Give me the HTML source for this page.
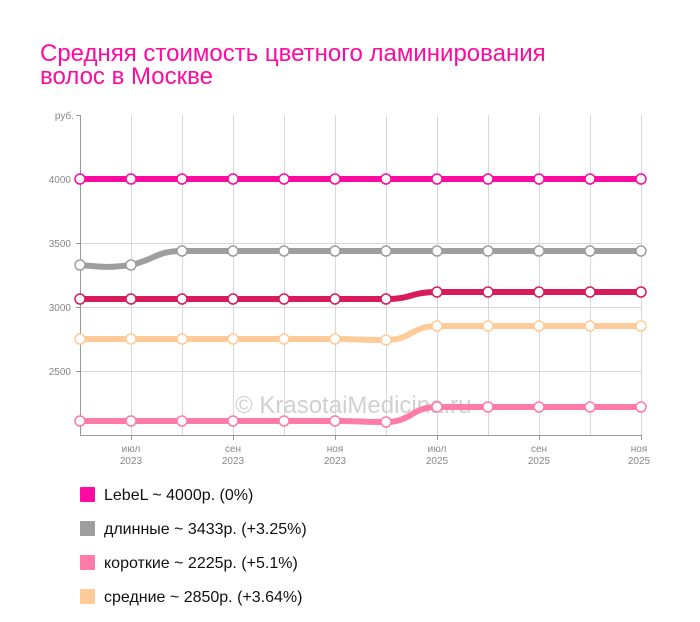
<!DOCTYPE html>
<html><head><meta charset="utf-8"><style>
body{margin:0;background:#fff;width:700px;height:617px;overflow:hidden;font-family:"Liberation Sans",sans-serif}
</style></head><body>
<svg width="700" height="617" xmlns="http://www.w3.org/2000/svg" font-family="Liberation Sans, sans-serif">
<text x="40" y="61" font-size="24" fill="#ff0aa0">Средняя стоимость цветного ламинирования</text>
<text x="40" y="84" font-size="24" fill="#ff0aa0">волос в Москве</text>
<g stroke="#d8d8d8" stroke-width="1">
<line x1="80" y1="179.5" x2="641" y2="179.5"/><line x1="80" y1="243.5" x2="641" y2="243.5"/>
<line x1="80" y1="307.5" x2="641" y2="307.5"/><line x1="80" y1="371.5" x2="641" y2="371.5"/>
<line x1="131.5" y1="115" x2="131.5" y2="435"/><line x1="182.5" y1="115" x2="182.5" y2="435"/>
<line x1="233.5" y1="115" x2="233.5" y2="435"/><line x1="284.5" y1="115" x2="284.5" y2="435"/>
<line x1="335.5" y1="115" x2="335.5" y2="435"/><line x1="386.5" y1="115" x2="386.5" y2="435"/>
<line x1="437.5" y1="115" x2="437.5" y2="435"/><line x1="488.5" y1="115" x2="488.5" y2="435"/>
<line x1="539.5" y1="115" x2="539.5" y2="435"/><line x1="590.5" y1="115" x2="590.5" y2="435"/>
<line x1="641.5" y1="115" x2="641.5" y2="435"/>
</g>
<g stroke="#999" stroke-width="1">
<line x1="80.5" y1="115" x2="80.5" y2="435"/><line x1="80" y1="435.5" x2="641" y2="435.5"/>
<line x1="76" y1="115.5" x2="80" y2="115.5"/><line x1="76" y1="179.5" x2="80" y2="179.5"/><line x1="76" y1="243.5" x2="80" y2="243.5"/><line x1="76" y1="307.5" x2="80" y2="307.5"/><line x1="76" y1="371.5" x2="80" y2="371.5"/>
<line x1="131.5" y1="435" x2="131.5" y2="440"/><line x1="233.5" y1="435" x2="233.5" y2="440"/><line x1="335.5" y1="435" x2="335.5" y2="440"/><line x1="437.5" y1="435" x2="437.5" y2="440"/><line x1="539.5" y1="435" x2="539.5" y2="440"/><line x1="641.5" y1="435" x2="641.5" y2="440"/>
</g>
<g font-size="10" fill="#888" text-anchor="end">
<text x="74" y="119">руб.</text><text x="71" y="183">4000</text><text x="71" y="247">3500</text><text x="71" y="311">3000</text><text x="71" y="375">2500</text>
</g>
<g font-size="10" fill="#888" text-anchor="middle">
<text x="131" y="452">июл</text><text x="131" y="464">2023</text>
<text x="233" y="452">сен</text><text x="233" y="464">2023</text>
<text x="335" y="452">ноя</text><text x="335" y="464">2023</text>
<text x="437" y="452">июл</text><text x="437" y="464">2025</text>
<text x="539" y="452">сен</text><text x="539" y="464">2025</text>
<text x="639" y="452">ноя</text><text x="639" y="464">2025</text>
</g>
<text x="235" y="413" font-size="24" fill="#d0d0d0">© KrasotaiMedicina.ru</text>
<g fill="none" stroke-width="6" stroke-linecap="round">
<path d="M80,179H641" stroke="#ff0aa0"/>
<path d="M80,265c25.5,2 25.5,3 51,0c25.5,-6 25.5,-14 51,-14c25.5,0 25.5,0 51,0H641" stroke="#9e9e9e"/>
<path d="M80,299H386c25.5,0 25.5,-7 51,-7H641" stroke="#d81b5c"/>
<path d="M80,339H335c25.5,0 25.5,1 51,1c25.5,0 25.5,-14 51,-14H641" stroke="#ffcc99"/>
<path d="M80,421H335c25.5,0 25.5,1 51,1c25.5,0 25.5,-15 51,-15H641" stroke="#ff7ba8"/>
</g>
<g fill="#fff" stroke-width="1.5">
<g stroke="#ff0aa0"><circle cx="80" cy="179" r="5"/><circle cx="131" cy="179" r="5"/><circle cx="182" cy="179" r="5"/><circle cx="233" cy="179" r="5"/><circle cx="284" cy="179" r="5"/><circle cx="335" cy="179" r="5"/><circle cx="386" cy="179" r="5"/><circle cx="437" cy="179" r="5"/><circle cx="488" cy="179" r="5"/><circle cx="539" cy="179" r="5"/><circle cx="590" cy="179" r="5"/><circle cx="641" cy="179" r="5"/></g>
<g stroke="#9e9e9e"><circle cx="80" cy="265" r="5"/><circle cx="131" cy="265" r="5"/><circle cx="182" cy="251" r="5"/><circle cx="233" cy="251" r="5"/><circle cx="284" cy="251" r="5"/><circle cx="335" cy="251" r="5"/><circle cx="386" cy="251" r="5"/><circle cx="437" cy="251" r="5"/><circle cx="488" cy="251" r="5"/><circle cx="539" cy="251" r="5"/><circle cx="590" cy="251" r="5"/><circle cx="641" cy="251" r="5"/></g>
<g stroke="#d81b5c"><circle cx="80" cy="299" r="5"/><circle cx="131" cy="299" r="5"/><circle cx="182" cy="299" r="5"/><circle cx="233" cy="299" r="5"/><circle cx="284" cy="299" r="5"/><circle cx="335" cy="299" r="5"/><circle cx="386" cy="299" r="5"/><circle cx="437" cy="292" r="5"/><circle cx="488" cy="292" r="5"/><circle cx="539" cy="292" r="5"/><circle cx="590" cy="292" r="5"/><circle cx="641" cy="292" r="5"/></g>
<g stroke="#ffcc99"><circle cx="80" cy="339" r="5"/><circle cx="131" cy="339" r="5"/><circle cx="182" cy="339" r="5"/><circle cx="233" cy="339" r="5"/><circle cx="284" cy="339" r="5"/><circle cx="335" cy="339" r="5"/><circle cx="386" cy="340" r="5"/><circle cx="437" cy="326" r="5"/><circle cx="488" cy="326" r="5"/><circle cx="539" cy="326" r="5"/><circle cx="590" cy="326" r="5"/><circle cx="641" cy="326" r="5"/></g>
<g stroke="#ff7ba8"><circle cx="80" cy="421" r="5"/><circle cx="131" cy="421" r="5"/><circle cx="182" cy="421" r="5"/><circle cx="233" cy="421" r="5"/><circle cx="284" cy="421" r="5"/><circle cx="335" cy="421" r="5"/><circle cx="386" cy="422" r="5"/><circle cx="437" cy="407" r="5"/><circle cx="488" cy="407" r="5"/><circle cx="539" cy="407" r="5"/><circle cx="590" cy="407" r="5"/><circle cx="641" cy="407" r="5"/></g>
</g>
<g font-size="16" fill="#111">
<rect x="80" y="487" width="15" height="15" rx="1" fill="#ff0aa0"/><text x="104" y="500">LebeL ~ 4000р. (0%)</text>
<rect x="80" y="521" width="15" height="15" rx="1" fill="#9e9e9e"/><text x="104" y="534">длинные ~ 3433р. (+3.25%)</text>
<rect x="80" y="555" width="15" height="15" rx="1" fill="#ff7ba8"/><text x="104" y="568">короткие ~ 2225р. (+5.1%)</text>
<rect x="80" y="589" width="15" height="15" rx="1" fill="#ffcc99"/><text x="104" y="602">средние ~ 2850р. (+3.64%)</text>
</g>
</svg>
</body></html>
